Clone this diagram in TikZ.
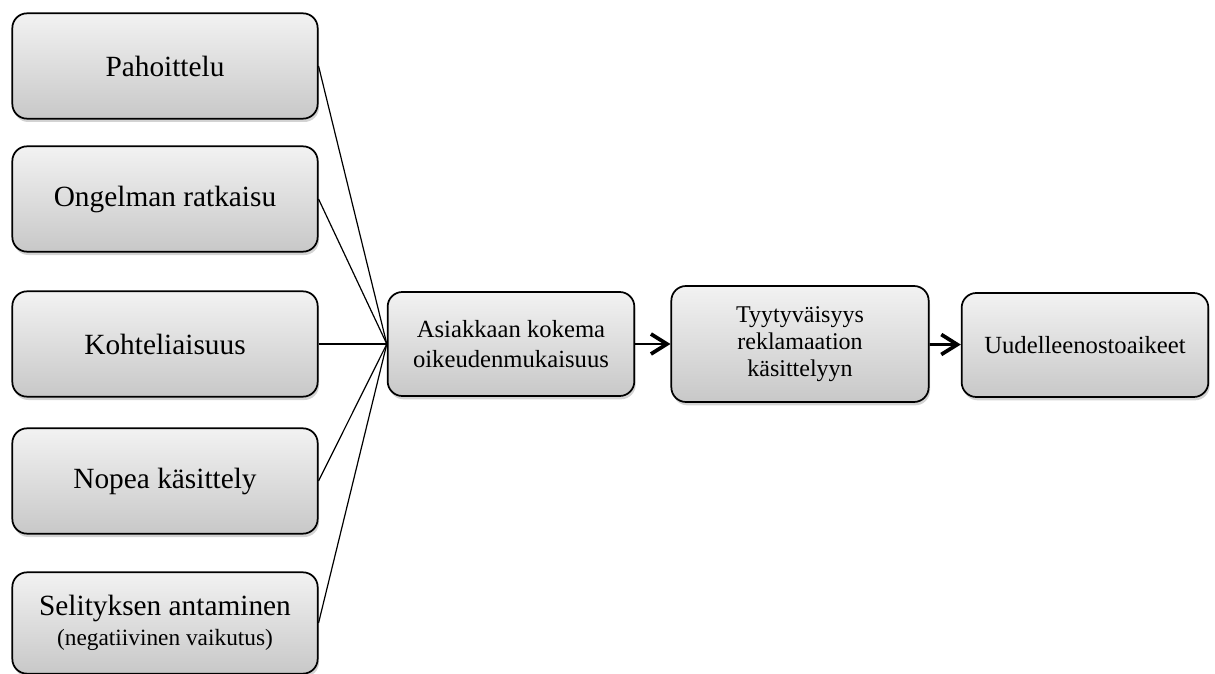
\documentclass[tikz,border=0pt]{standalone}
\usepackage{fontspec}
\setmainfont{Liberation Serif}
\usepackage{tikz}
\usetikzlibrary{arrows.meta,shadows}
\definecolor{boxTop}{RGB}{242,242,242}
\definecolor{boxBottom}{RGB}{200,200,200}

\tikzset{
  softbox/.style={draw=black, line width=1.3pt, rounded corners=11pt,
    top color=boxTop, bottom color=boxBottom, align=center,
    drop shadow={opacity=0.35, shadow xshift=1pt, shadow yshift=-2.5pt}},
  leftbox/.style={softbox, minimum width=229pt, minimum height=79pt,
    font=\fontsize{22}{26}\selectfont},
  midbox/.style={softbox, minimum width=185pt, minimum height=78pt,
    font=\fontsize{18.5}{22}\selectfont},
  link/.style={black, line width=0.9pt},
  flow/.style={black, line width=2pt,
    -{Straight Barb[length=12pt,width=15pt,line width=2.8pt]}}
}

\begin{document}
\begin{tikzpicture}[x=0.75pt,y=-0.75pt]
\useasboundingbox (0,0) rectangle (1215,674);

% syyt
\node[leftbox] (pah) at (165,66) {Pahoittelu};
\node[leftbox] (ong) at (165,199) {Ongelman ratkaisu};
\node[leftbox] (koh) at (165,344) {Kohteliaisuus};
\node[leftbox] (nop) at (165,481) {Nopea käsittely};
\node[leftbox, minimum height=76pt] (sel) at (165,623)
  {Selityksen antaminen\\[-4pt]{\fontsize{17.5}{21}\selectfont (negatiivinen vaikutus)}};

% ketju
\node[midbox] (oik) at (511,344) {Asiakkaan kokema\\oikeudenmukaisuus};
\node[midbox, minimum width=193pt, minimum height=87pt,
  font=\fontsize{18}{20}\selectfont] (tyy) at (800,344)
  {Tyytyväisyys\\reklamaation\\käsittelyyn};
\node[midbox] (uud) at (1085,345) {Uudelleenostoaikeet};

\foreach \src in {pah,ong,koh,nop,sel}
  \draw[link] (\src.east) -- (oik.west);

\draw[flow] (oik) -- (tyy);
\draw[flow] (tyy) -- (uud);
\end{tikzpicture}
\end{document}
